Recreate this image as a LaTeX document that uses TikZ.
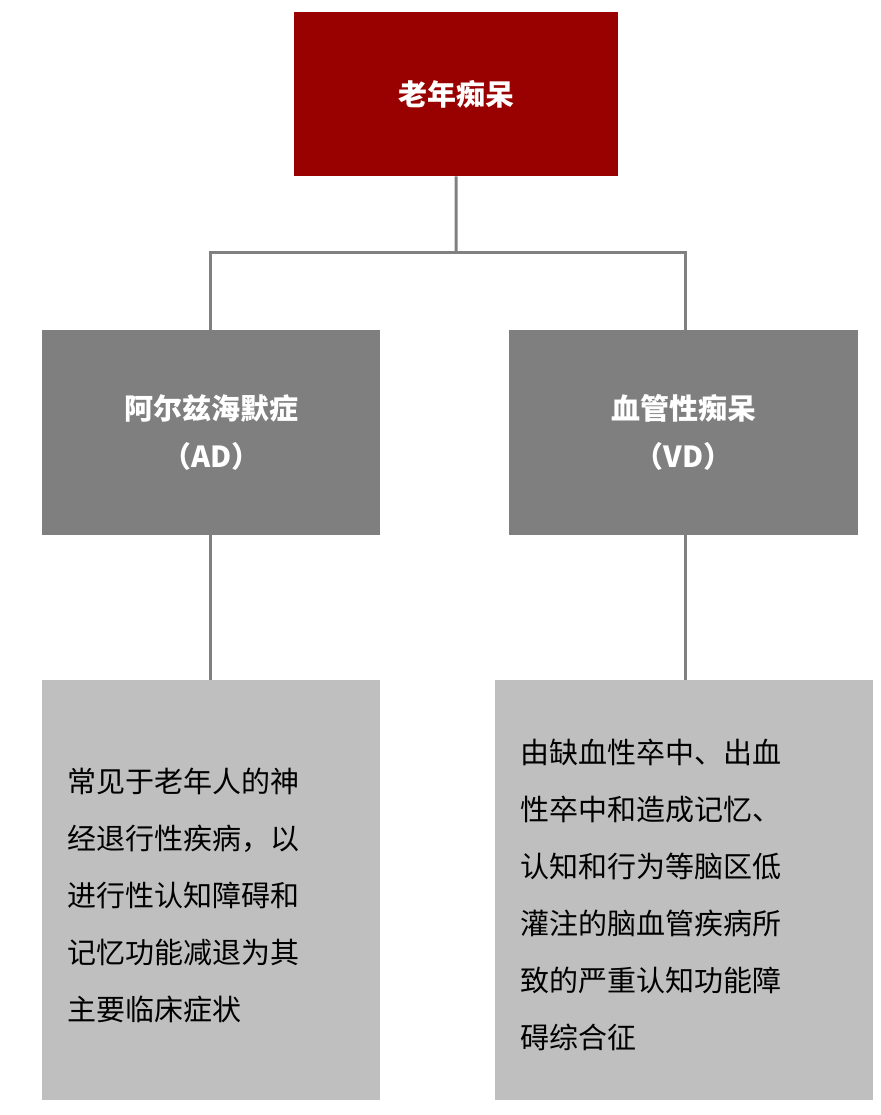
\documentclass[tikz,border=0pt]{standalone}
\usepackage{fontspec}
\setmainfont{Noto Sans CJK SC}
\newfontfamily\cjkb{Noto Sans CJK SC Medium}
\definecolor{topred}{HTML}{990000}
\definecolor{midgray}{HTML}{7F7F7F}
\definecolor{lightgray}{HTML}{BFBFBF}
\definecolor{linegray}{HTML}{808080}
\begin{document}
\begin{tikzpicture}[x=1pt,y=-1pt,
  box/.style={inner sep=0pt,anchor=north west},
  conn/.style={draw=linegray,line width=3pt}]
\useasboundingbox (0,0) rectangle (880,1115);
\fill[white] (0,0) rectangle (880,1115);
\node[box,fill=topred,minimum width=324pt,minimum height=164pt] (top) at (294,12) {};
\node[text=white,font=\fontsize{29}{34}\selectfont\bfseries] at (top.center) {老年痴呆};
\node[box,fill=midgray,minimum width=338pt,minimum height=205pt] (ad) at (42,330) {};
\node[text=white,font=\fontsize{29}{48}\selectfont\bfseries,align=center] at (ad.center) {阿尔兹海默症\\（AD）};
\node[box,fill=midgray,minimum width=349pt,minimum height=205pt] (vd) at (509,330) {};
\node[text=white,font=\fontsize{29}{48}\selectfont\bfseries,align=center] at (vd.center) {血管性痴呆\\（VD）};
\node[box,fill=lightgray,minimum width=338pt,minimum height=420pt] (adt) at (42,680) {};
\node[anchor=west,font=\fontsize{29}{57}\selectfont,align=left] at ([xshift=22pt,yshift=-5pt]adt.west) {常见于老年人的神\\经退行性疾病，以\\进行性认知障碍和\\记忆功能减退为其\\主要临床症状};
\node[box,fill=lightgray,minimum width=378pt,minimum height=420pt] (vdt) at (495,680) {};
\node[anchor=west,font=\fontsize{29}{57}\selectfont,align=left] at ([xshift=22pt,yshift=-5pt]vdt.west) {由缺血性卒中、出血\\性卒中和造成记忆、\\认知和行为等脑区低\\灌注的脑血管疾病所\\致的严重认知功能障\\碍综合征};
\coordinate (j) at (456,252);
\draw[conn] (top.south) -- (j);
\draw[conn] (210,330) -- (210,252) -- (685,252) -- (685,330);
\draw[conn] (210,535) -- (210,680);
\draw[conn] (685,535) -- (685,680);
\end{tikzpicture}
\end{document}
